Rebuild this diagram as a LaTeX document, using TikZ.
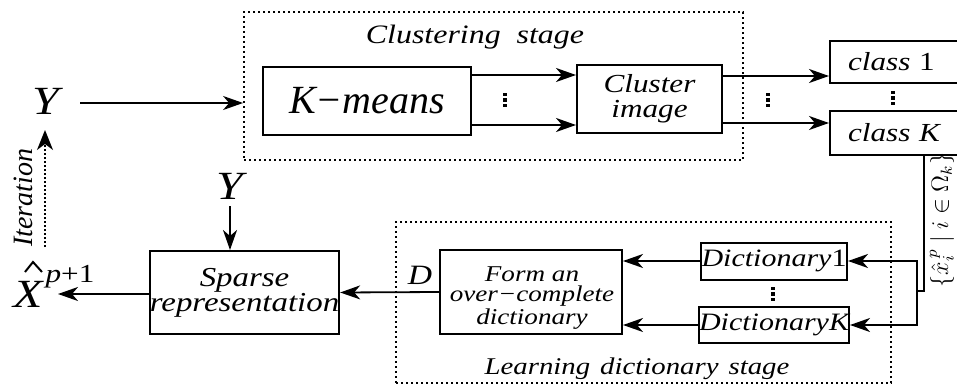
\documentclass[tikz,border=0pt]{standalone}
\usepackage{fontspec}
\setmainfont{Liberation Serif}
\newfontfamily\wide{Liberation Serif}[FakeStretch=1.2]
\usetikzlibrary{arrows.meta}
\newcommand{\fsz}[1]{\fontsize{#1}{#1}\selectfont}
\newcommand{\dotcol}[2]{\foreach \dy in {-5.5,0,5.5}{\fill (#1-1.9,#2+\dy-1.9) rectangle (#1+1.9,#2+\dy+1.9);}}
\begin{document}
\begin{tikzpicture}[x=0.5pt,y=-0.5pt,
  box/.style={draw, line width=1pt, inner sep=0pt, align=center},
  stagebox/.style={draw, line width=0.9pt, dash pattern=on 1.2pt off 1.3pt, inner sep=0pt},
  arr/.style={line width=0.9pt, -{Stealth[length=10pt,width=7pt,inset=3pt]}},
  lbl/.style={font=\wide\itshape\fsz{13}},
]
\useasboundingbox (0,0) rectangle (957,385);
\clip (0,0) rectangle (957,385);
% stage boxes
\node[stagebox, minimum width=249.5pt, minimum height=74pt] (cstage) at (493.5,86) {};
\node[stagebox, minimum width=247.5pt, minimum height=80.5pt] (lstage) at (643.5,302.5) {};
\node[lbl, font=\wide\itshape\fsz{13.3}] (ctitle) at (475,37) {Clustering\ \ stage};
\node[lbl, font=\wide\itshape\fsz{12}] (ltitle) at (637,369) {Learning\hspace{5pt}dictionary\hspace{5pt}stage};
% boxes
\node[box, font=\itshape\fsz{20}, minimum width=104pt, minimum height=34pt] (kmeans) at (367,101) {K−means};
\node[box, lbl, font=\wide\itshape\fontsize{13}{12.5}\selectfont, minimum width=72.5pt, minimum height=34pt] (cluster) at (649.5,99) {Cluster\\image};
\node[box, lbl, anchor=west, align=left, text width=70pt, inner xsep=9pt, minimum height=21pt] (class1) at (829,62) {\textit{class} \textup{1}};
\node[box, lbl, anchor=west, align=left, text width=70pt, inner xsep=9pt, minimum height=22pt] (classK) at (829,133) {class K};
\node[box, minimum width=91pt, minimum height=42pt] (form) at (531,292) {};
\node[lbl, align=center, font=\wide\itshape\fontsize{11.3}{10}\selectfont] (formtxt) at (532,298) {Form an\\over−complete\\dictionary};
\node[box, lbl, font=\wide\itshape\fsz{12.5}, minimum width=73pt, minimum height=18.5pt] (dict1) at (774,261) {Dictionary\textup{1}};
\node[box, lbl, font=\wide\itshape\fsz{12.5}, minimum width=73pt, minimum height=18pt] (dictK) at (774,325) {DictionaryK};
\node[box, lbl, font=\wide\itshape\fontsize{13.7}{12.5}\selectfont, minimum width=94.5pt, minimum height=41.5pt] (sparse) at (244.5,292.5) {Sparse\\representation};
% dots
\dotcol{505}{100}
\dotcol{768}{100}
\dotcol{893}{98}
\dotcol{773}{294}
% labels
\node[lbl, font=\wide\itshape\fsz{20}] (ytop) at (46,101) {Y};
\node[lbl, font=\wide\itshape\fsz{20}] (ytwo) at (230,186) {Y};
\node[lbl, font=\wide\itshape\fsz{20}] (xhat) at (28,294) {X};
\node[lbl, font=\wide\fsz{13}] (xsup) at (70,277) {\textit{p}+1};
\draw[line width=1pt] (25,272) -- (33,262) -- (42,272);
\node[lbl, font=\wide\itshape\fsz{14}] (dlab) at (420,275) {D};
\node[font=\itshape\fsz{14}, rotate=90] (iter) at (23,198) {Iteration};
\node[font=\fsz{12}, rotate=90] (setlab) at (942,220) {$\{\hat{x}_i^{\,p}\mid i\in\Omega_k\}$};
% coordinates
\coordinate (a1) at (0,75);
\coordinate (a2) at (0,125);
\coordinate (b1) at (0,76);
\coordinate (b2) at (0,123);
\coordinate (j1) at (924,291);
\coordinate (j2) at (917,291);
\coordinate (xtip) at (58,294);
\coordinate (it1) at (45,247);
\coordinate (it2) at (45,130);
% connectors
\draw[arr] (ytop.east) ++(14,2) -- (cstage.west |- 0,103);
\draw[arr] (kmeans.east |- a1) -- (cluster.west |- a1);
\draw[arr] (kmeans.east |- a2) -- (cluster.west |- a2);
\draw[arr] (cluster.east |- b1) -- (class1.west |- b1);
\draw[arr] (cluster.east |- b2) -- (classK.west |- b2);
\draw[line width=0.9pt] (classK.south -| j1) -- (j1) -- (j2);
\draw[arr] (j2) |- (dict1.east);
\draw[arr] (j2) |- (dictK.east);
\draw[arr] (dict1.west) -- (form.east |- dict1.west);
\draw[arr] (dictK.west) -- (form.east |- dictK.west);
\draw[arr] (form.west) -- (sparse.east);
\draw[arr] (ytwo.south) -- (ytwo.south |- sparse.north);
\draw[arr] (sparse.west |- xtip) -- (xtip);
\draw[line width=0.8pt, dash pattern=on 1pt off 1pt, -{Stealth[length=10pt,width=8pt,inset=3pt]}] (it1) -- (it2);
\end{tikzpicture}
\end{document}
